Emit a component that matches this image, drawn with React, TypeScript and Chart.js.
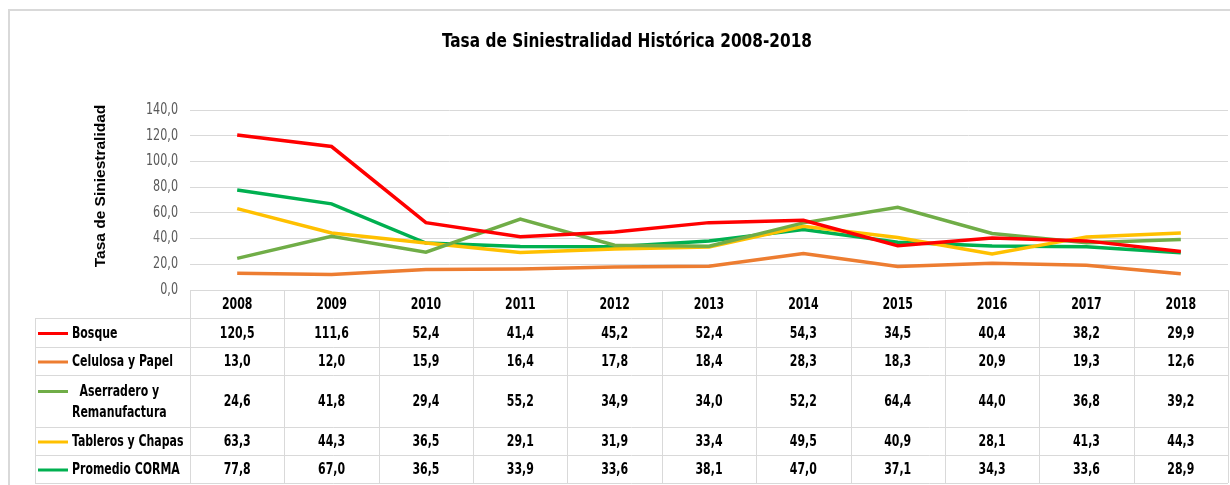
import React, { useEffect, useRef } from "react";
import { Chart, registerables } from "chart.js";

Chart.register(...registerables);

const categories = ["2008", "2009", "2010", "2011", "2012", "2013", "2014", "2015", "2016", "2017", "2018"];
const bosque = [120.5, 111.6, 52.4, 41.4, 45.2, 52.4, 54.3, 34.5, 40.4, 38.2, 29.9];
const celulosa = [13.0, 12.0, 15.9, 16.4, 17.8, 18.4, 28.3, 18.3, 20.9, 19.3, 12.6];
const aserradero = [24.6, 41.8, 29.4, 55.2, 34.9, 34.0, 52.2, 64.4, 44.0, 36.8, 39.2];
const tableros = [63.3, 44.3, 36.5, 29.1, 31.9, 33.4, 49.5, 40.9, 28.1, 41.3, 44.3];
const promedio = [77.8, 67.0, 36.5, 33.9, 33.6, 38.1, 47.0, 37.1, 34.3, 33.6, 28.9];
const seriesNames = ["Bosque", "Celulosa y Papel", "Aserradero y\nRemanufactura", "Tableros y Chapas", "Promedio CORMA"];
const seriesColors = ["#FF0000", "#ED7D31", "#70AD47", "#FFC000", "#00B050"];
const titleText = "Tasa de Siniestralidad Histórica 2008-2018";
const yTitleText = "Tasa de Siniestralidad";
const yMin = 0;
const yMax = 140;
const yStep = 20;

const COND = "'DejaVu Sans Condensed', 'DejaVu Sans', sans-serif";
const ARIAL = "'Liberation Sans', Arial, sans-serif";

const fmt = (v: number) => v.toFixed(1).replace(".", ",");

function drawText(ctx: CanvasRenderingContext2D, text: string, x: number, y: number, align: CanvasTextAlign, sx: number) {
  ctx.save();
  ctx.translate(x, y);
  ctx.scale(sx, 1);
  ctx.textAlign = align;
  ctx.textBaseline = "middle";
  ctx.fillText(text, 0, 0);
  ctx.restore();
}

const tablePlugin = {
  id: "tablePlugin",
  afterDraw(chart: any) {
    const ctx = chart.ctx as CanvasRenderingContext2D;
    const area = chart.chartArea;
    const xs = chart.scales.x;
    const yScale = chart.scales.y;
    const n = categories.length;
    const colW = (area.right - area.left) / n;
    const grid = "#d9d9d9";
    ctx.save();

    // outer frame
    ctx.strokeStyle = grid;
    ctx.lineWidth = 2;
    ctx.beginPath();
    ctx.moveTo(9, 485);
    ctx.lineTo(9, 10);
    ctx.lineTo(1230, 10);
    ctx.stroke();

    // title
    ctx.fillStyle = "#000";
    ctx.font = `bold 19.5px ${COND}`;
    const tsx = 370 / ctx.measureText(titleText).width;
    drawText(ctx, titleText, 627, 42, "center", tsx);

    // y title
    ctx.save();
    ctx.translate(101, 186);
    ctx.rotate(-Math.PI / 2);
    ctx.font = `bold 15.5px ${ARIAL}`;
    ctx.fillStyle = "#000";
    ctx.textAlign = "center";
    ctx.textBaseline = "middle";
    ctx.fillText(yTitleText, 0, 0);
    ctx.restore();

    // y tick labels
    ctx.font = `15px ${COND}`;
    ctx.fillStyle = "#595959";
    const ysx = 32 / ctx.measureText("140,0").width;
    yScale.ticks.forEach((t: any) => {
      drawText(ctx, fmt(t.value), 178, yScale.getPixelForValue(t.value), "right", ysx);
    });

    // table geometry
    const tableLeft = 35;
    const top = area.bottom;
    const rowH = [28, 29, 28, 52, 28, 28];
    const ys: number[] = [top];
    rowH.forEach((h) => ys.push(ys[ys.length - 1] + h));
    const bottom = ys[ys.length - 1];

    ctx.strokeStyle = grid;
    ctx.lineWidth = 1;
    ctx.beginPath();
    for (let i = 1; i < ys.length; i++) {
      ctx.moveTo(tableLeft, Math.round(ys[i]) + 0.5);
      ctx.lineTo(area.right, Math.round(ys[i]) + 0.5);
    }
    ctx.moveTo(tableLeft + 0.5, ys[1]);
    ctx.lineTo(tableLeft + 0.5, bottom);
    for (let i = 0; i <= n; i++) {
      const x = Math.round(area.left + i * colW) + 0.5;
      ctx.moveTo(x, top);
      ctx.lineTo(x, bottom);
    }
    ctx.stroke();

    // header
    ctx.fillStyle = "#000";
    ctx.font = `bold 15.5px ${COND}`;
    const sx = 101 / ctx.measureText("Celulosa y Papel").width;
    categories.forEach((c, i) => {
      drawText(ctx, c, xs.getPixelForValue(i), (ys[0] + ys[1]) / 2 + 1, "center", sx);
    });

    // rows
    const data = chart.data.datasets;
    data.forEach((ds: any, r: number) => {
      const y0 = ys[r + 1];
      const y1 = ys[r + 2];
      const cy = (y0 + y1) / 2 + 1;
      const lines = seriesNames[r].split("\n");
      const lh = 21;
      const firstY = cy - ((lines.length - 1) * lh) / 2;
      ctx.strokeStyle = ds.borderColor;
      ctx.lineWidth = 3;
      ctx.beginPath();
      ctx.moveTo(38, firstY);
      ctx.lineTo(68, firstY);
      ctx.stroke();
      ctx.fillStyle = "#000";
      if (lines.length === 1) {
        drawText(ctx, lines[0], 72, cy, "left", sx);
      } else {
        const widths = lines.map((l) => ctx.measureText(l).width * sx);
        const maxW = Math.max(...widths);
        const cx = 72 + maxW / 2;
        lines.forEach((l, k) => drawText(ctx, l, cx, firstY + k * lh, "center", sx));
      }
      ds.data.forEach((v: number, i: number) => {
        drawText(ctx, fmt(v), xs.getPixelForValue(i), cy, "center", sx);
      });
    });
    ctx.restore();
  },
};

export default function App() {
  const ref = useRef<HTMLCanvasElement | null>(null);
  useEffect(() => {
    document.body.style.margin = "0";
    const seriesData = [bosque, celulosa, aserradero, tableros, promedio];
    const chart = new Chart(ref.current as HTMLCanvasElement, {
      type: "line",
      data: {
        labels: categories,
        datasets: seriesData.map((d, i) => ({
          label: seriesNames[i].replace("\n", " "),
          data: d,
          borderColor: seriesColors[i],
          backgroundColor: seriesColors[i],
          borderWidth: 3.5,
          pointRadius: 0,
          tension: 0,
          fill: false,
        })),
      },
      options: {
        responsive: false,
        animation: false,
        devicePixelRatio: 1,
        layout: { padding: { left: 0, top: 110, right: 2, bottom: 195 } },
        plugins: { legend: { display: false }, title: { display: false }, tooltip: { enabled: false } },
        scales: {
          x: { display: false, offset: true },
          y: {
            min: yMin,
            max: yMax,
            afterFit: (s: any) => {
              s.width = 190;
            },
            border: { display: false },
            grid: { color: "#d9d9d9", drawTicks: false, lineWidth: 1 },
            ticks: {
              stepSize: yStep,
              padding: 12,
              color: "rgba(0,0,0,0)",
              font: { size: 15 },
              callback: (v: any) => fmt(Number(v)),
            },
          },
        },
      },
      plugins: [tablePlugin],
    });
    return () => chart.destroy();
  }, []);
  return (
    <div style={{ width: 1230, height: 485, background: "#fff" }}>
      <canvas ref={ref} width={1230} height={485} />
    </div>
  );
}
